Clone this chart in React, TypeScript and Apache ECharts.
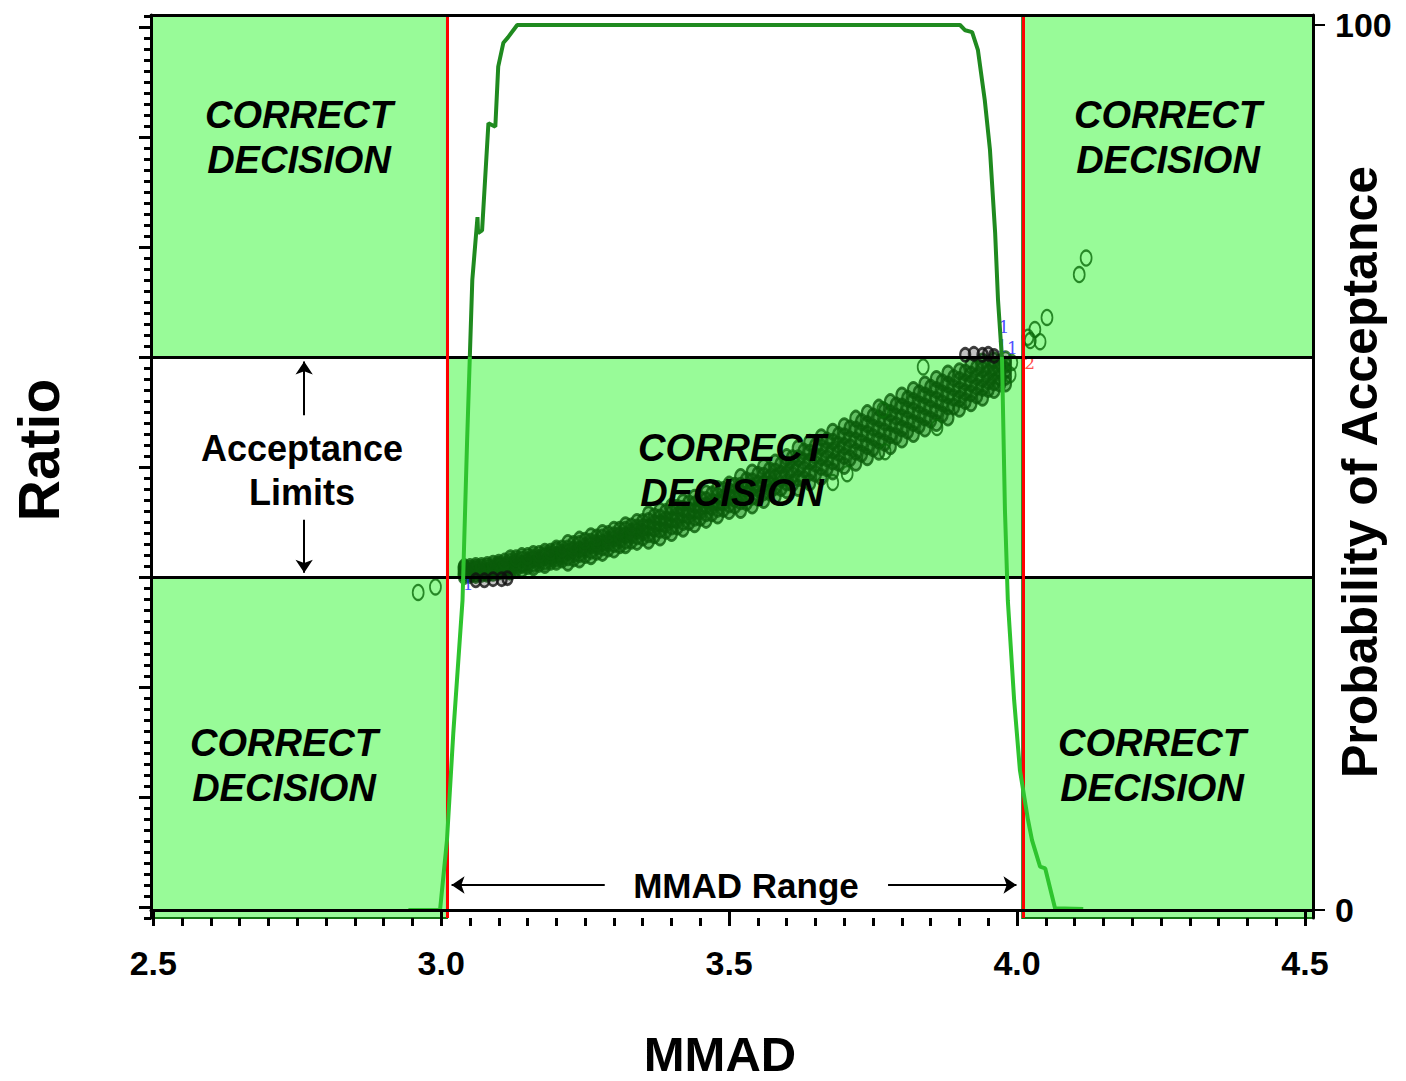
import React, { useEffect, useRef } from "react";
import * as echarts from "echarts";

const FONT = '"Liberation Sans", Arial, Helvetica, sans-serif';

// ---- axes ----
const X_MIN = 2.496;
const X_MAX = 4.514;
const R_MIN = 0.59;
const R_MAX = 1.411;
const P_MIN = -0.904;
const P_MAX = 101.13;
const xMajorTicks = [2.5, 3.0, 3.5, 4.0, 4.5];
const probTicks = [0, 100];
const ratioMajorTicks = [0.6, 0.7, 0.8, 0.9, 1.0, 1.1, 1.2, 1.3, 1.4];
const xMinorTicks = Array.from({ length: 41 }, (_, i) => +(2.5 + i * 0.05).toFixed(2));
const ratioMinorTicks = Array.from({ length: 83 }, (_, i) => +(0.59 + i * 0.01).toFixed(2));

const xTitle = "MMAD";
const leftTitle = "Ratio";
const rightTitle = "Probability of Acceptance";

// ---- limits ----
const mmadLimits = [3.01, 4.009];
const ratioLimits = [0.9, 1.1];

// ---- probability of acceptance curve (right axis) ----
const probX = [2.943, 2.998, 3.010, 3.021, 3.037, 3.045, 3.054, 3.063, 3.064, 3.071, 3.082, 3.094, 3.099, 3.108, 3.116, 3.132,
  3.901, 3.910, 3.922, 3.932, 3.944, 3.953, 3.962, 3.967, 3.974, 3.979, 3.984, 3.995, 4.005, 4.019, 4.026, 4.040, 4.049, 4.066, 4.115];
const probY = [0, 0, 7.9, 20.0, 35.0, 53.1, 71.2, 78.3, 76.5, 76.8, 88.9, 88.5, 95.3, 98.0, 98.6, 100,
  100, 99.4, 99.2, 97.2, 91.5, 85.9, 76.5, 68.9, 62.1, 45.2, 35.0, 23.7, 15.8, 10.2, 7.9, 4.9, 4.7, 0.2, 0.1];

// ---- simulated ratio vs MMAD (left axis), read column by column ----
const bandX = [3.04, 3.06, 3.08, 3.10, 3.12, 3.14, 3.16, 3.18, 3.20, 3.22, 3.24, 3.26, 3.28, 3.30, 3.32, 3.34, 3.36, 3.38,
  3.40, 3.42, 3.44, 3.46, 3.48, 3.50, 3.52, 3.54, 3.56, 3.58, 3.60, 3.62, 3.64, 3.66, 3.68, 3.70, 3.72, 3.74, 3.76, 3.78,
  3.80, 3.82, 3.84, 3.86, 3.88, 3.90, 3.92, 3.94, 3.96, 3.98];
const bandY = [
  [0.901, 0.903, 0.905, 0.908, 0.909],
  [0.902, 0.904, 0.907, 0.908, 0.910],
  [0.903, 0.905, 0.906, 0.909, 0.911],
  [0.905, 0.907, 0.910, 0.911, 0.913],
  [0.905, 0.908, 0.911, 0.914, 0.917],
  [0.907, 0.911, 0.912, 0.916, 0.919],
  [0.909, 0.912, 0.916, 0.918, 0.921],
  [0.911, 0.914, 0.918, 0.920, 0.923],
  [0.914, 0.917, 0.920, 0.924, 0.926],
  [0.913, 0.918, 0.923, 0.926, 0.931],
  [0.916, 0.921, 0.925, 0.930, 0.934],
  [0.919, 0.924, 0.929, 0.932, 0.937],
  [0.922, 0.927, 0.931, 0.936, 0.940],
  [0.925, 0.930, 0.935, 0.938, 0.943],
  [0.929, 0.933, 0.938, 0.943, 0.947],
  [0.932, 0.937, 0.942, 0.945, 0.950],
  [0.933, 0.939, 0.945, 0.951, 0.957],
  [0.936, 0.943, 0.949, 0.954, 0.960],
  [0.940, 0.946, 0.952, 0.958, 0.964],
  [0.944, 0.950, 0.957, 0.962, 0.968],
  [0.948, 0.954, 0.960, 0.966, 0.972],
  [0.952, 0.958, 0.965, 0.970, 0.976],
  [0.956, 0.962, 0.968, 0.974, 0.980],
  [0.960, 0.966, 0.973, 0.978, 0.984],
  [0.961, 0.969, 0.976, 0.983, 0.991],
  [0.965, 0.973, 0.981, 0.987, 0.995],
  [0.970, 0.977, 0.985, 0.992, 1.000],
  [0.974, 0.982, 0.990, 0.996, 1.004],
  [0.979, 0.986, 0.994, 1.002, 1.009],
  [0.981, 0.990, 0.999, 1.008, 1.017],
  [0.986, 0.995, 1.005, 1.013, 1.022],
  [0.991, 1.000, 1.009, 1.018, 1.027],
  [0.996, 1.005, 1.015, 1.023, 1.032],
  [1.001, 1.010, 1.019, 1.028, 1.037],
  [1.004, 1.014, 1.024, 1.034, 1.044],
  [1.009, 1.019, 1.030, 1.039, 1.049],
  [1.014, 1.024, 1.034, 1.044, 1.054],
  [1.019, 1.029, 1.040, 1.049, 1.059],
  [1.025, 1.035, 1.045, 1.055, 1.065],
  [1.030, 1.040, 1.051, 1.060, 1.070],
  [1.035, 1.045, 1.055, 1.065, 1.075],
  [1.040, 1.050, 1.061, 1.070, 1.080],
  [1.045, 1.055, 1.065, 1.075, 1.085],
  [1.053, 1.062, 1.070, 1.079, 1.087],
  [1.058, 1.067, 1.076, 1.084, 1.092],
  [1.063, 1.072, 1.080, 1.089, 1.096],
  [1.070, 1.077, 1.085, 1.091, 1.097],
  [1.076, 1.082, 1.088, 1.093, 1.098],
];
const bandX2 = [3.05, 3.07, 3.09, 3.11, 3.13, 3.15, 3.17, 3.19, 3.21, 3.23, 3.25, 3.27, 3.29, 3.31, 3.33, 3.35, 3.37, 3.39,
  3.41, 3.43, 3.45, 3.47, 3.49, 3.51, 3.53, 3.55, 3.57, 3.59, 3.61, 3.63, 3.65, 3.67, 3.69, 3.71, 3.73, 3.75, 3.77, 3.79,
  3.81, 3.83, 3.85, 3.87, 3.89, 3.91, 3.93, 3.95, 3.97];
const bandY2 = [
  [0.902, 0.904, 0.907, 0.909],
  [0.903, 0.905, 0.908, 0.910],
  [0.904, 0.907, 0.909, 0.912],
  [0.906, 0.909, 0.911, 0.914],
  [0.908, 0.911, 0.914, 0.917],
  [0.910, 0.913, 0.915, 0.919],
  [0.912, 0.915, 0.917, 0.921],
  [0.914, 0.917, 0.920, 0.923],
  [0.916, 0.919, 0.922, 0.926],
  [0.917, 0.921, 0.925, 0.930],
  [0.920, 0.925, 0.928, 0.933],
  [0.923, 0.928, 0.931, 0.936],
  [0.926, 0.931, 0.934, 0.939],
  [0.929, 0.934, 0.938, 0.943],
  [0.933, 0.938, 0.941, 0.946],
  [0.936, 0.941, 0.945, 0.950],
  [0.938, 0.944, 0.949, 0.955],
  [0.942, 0.948, 0.952, 0.959],
  [0.946, 0.952, 0.956, 0.963],
  [0.950, 0.956, 0.960, 0.967],
  [0.954, 0.960, 0.964, 0.971],
  [0.958, 0.964, 0.968, 0.975],
  [0.962, 0.968, 0.972, 0.979],
  [0.965, 0.971, 0.977, 0.983],
  [0.968, 0.975, 0.981, 0.988],
  [0.972, 0.980, 0.985, 0.993],
  [0.977, 0.984, 0.990, 0.997],
  [0.981, 0.989, 0.994, 1.002],
  [0.985, 0.993, 0.999, 1.008],
  [0.989, 0.998, 1.005, 1.014],
  [0.994, 1.003, 1.010, 1.019],
  [0.999, 1.008, 1.015, 1.024],
  [1.004, 1.013, 1.020, 1.029],
  [1.008, 1.018, 1.025, 1.035],
  [1.012, 1.022, 1.031, 1.041],
  [1.017, 1.027, 1.036, 1.046],
  [1.022, 1.032, 1.041, 1.051],
  [1.028, 1.038, 1.046, 1.056],
  [1.033, 1.043, 1.052, 1.062],
  [1.038, 1.048, 1.057, 1.067],
  [1.043, 1.053, 1.062, 1.072],
  [1.048, 1.058, 1.067, 1.077],
  [1.055, 1.063, 1.072, 1.081],
  [1.060, 1.068, 1.077, 1.086],
  [1.065, 1.073, 1.082, 1.090],
  [1.071, 1.078, 1.086, 1.093],
  [1.076, 1.082, 1.089, 1.095],
];
const outlierX = [2.960, 2.990, 3.680, 3.705, 3.767, 3.771, 3.837, 3.861, 3.988, 3.991, 4.019, 4.023, 4.031, 4.040, 4.052, 4.108, 4.120];
const outlierY = [0.886, 0.891, 0.986, 0.994, 1.052, 1.014, 1.091, 1.036, 1.084, 1.095, 1.118, 1.115, 1.125, 1.114, 1.136, 1.175, 1.190];
const blackX = [3.06, 3.075, 3.09, 3.105, 3.115, 3.91, 3.925, 3.94, 3.95, 3.96];
const blackY = [0.897, 0.897, 0.898, 0.898, 0.899, 1.102, 1.103, 1.102, 1.103, 1.101];
const countLabelX = [3.977, 3.974, 3.992, 3.047, 4.022];
const countLabelY = [1.127, 1.110, 1.108, 0.894, 1.095];
const countLabelText = ["1", "1", "1", "1", "2"];
const countLabelColor = ["#2020ff", "#2020ff", "#2020ff", "#2020ff", "#ff2020"];

// ---- annotation arrows (data coordinates) ----
const arrowSegments = [
  [[2.762, 1.047], [2.762, 1.096]],
  [[2.762, 0.952], [2.762, 0.904]],
  [[3.284, 0.62], [3.018, 0.62]],
  [[3.776, 0.62], [3.999, 0.62]],
];

const App: React.FC = () => {
  const ref = useRef<HTMLDivElement>(null);

  useEffect(() => {
    if (!ref.current) return;
    const chart = echarts.init(ref.current, null, { renderer: "svg" });

    const bandData: number[][] = [];
    bandX.forEach((x, i) => bandY[i].forEach((y) => bandData.push([x, y])));
    bandX2.forEach((x, i) => bandY2[i].forEach((y) => bandData.push([x, y])));
    const outlierData = outlierX.map((x, i) => [x, outlierY[i]]);
    const blackData = blackX.map((x, i) => [x, blackY[i]]);
    const countData = countLabelX.map((x, i) => ({
      value: [x, countLabelY[i]],
      name: countLabelText[i],
      label: { color: countLabelColor[i] },
    }));
    const curveData = probX.map((x, i) => [x, probY[i]]);

    const boxStyle = { color: "#98FB98", borderColor: "#137313", borderWidth: 2 };
    const boxes = [
      [{ xAxis: X_MIN, yAxis: ratioLimits[1] }, { xAxis: mmadLimits[0], yAxis: R_MAX }],
      [{ xAxis: X_MIN, yAxis: R_MIN }, { xAxis: mmadLimits[0], yAxis: ratioLimits[0] }],
      [{ xAxis: mmadLimits[0], yAxis: ratioLimits[0] }, { xAxis: mmadLimits[1], yAxis: ratioLimits[1] }],
      [{ xAxis: mmadLimits[1], yAxis: ratioLimits[1] }, { xAxis: X_MAX, yAxis: R_MAX }],
      [{ xAxis: mmadLimits[1], yAxis: R_MIN }, { xAxis: X_MAX, yAxis: ratioLimits[0] }],
    ];

    const boldText = (size: number) => ({ fontFamily: FONT, fontWeight: "bold" as const, fontSize: size, color: "#000" });

    const textEl = (text: string, x: number, y: number, font: string, lineHeight: number, rotation = 0) => ({
      type: "text",
      x,
      y,
      rotation,
      z: 100,
      silent: true,
      style: {
        text,
        font,
        fill: "#000",
        align: "center",
        verticalAlign: "middle",
        lineHeight,
      },
    });
    const decision = "CORRECT\nDECISION";
    const decisionFont = `italic bold 38px ${FONT}`;

    chart.setOption({
      animation: false,
      backgroundColor: "#fff",
      grid: {
        left: 151,
        top: 15,
        width: 1162,
        height: 903,
        show: true,
        backgroundColor: "#fff",
        borderWidth: 0,
        containLabel: false,
        outerBoundsMode: "none",
      },
      visualMap: {
        type: "piecewise",
        show: false,
        seriesIndex: 6,
        dimension: 1,
        pieces: [
          { min: -5, max: 62.5, color: "#2ec42e" },
          { min: 62.5, max: 105, color: "#1f8a1f" },
        ],
      },
      xAxis: [
        {
          type: "value",
          min: X_MIN,
          max: X_MAX,
          position: "bottom",
          z: 10,
          splitLine: { show: false },
          axisLine: { show: true, lineStyle: { color: "#000", width: 3 } },
          axisTick: { show: true, customValues: xMajorTicks, length: 14, lineStyle: { color: "#000", width: 3 } },
          axisLabel: {
            show: true,
            customValues: xMajorTicks,
            formatter: (v: number) => v.toFixed(1),
            margin: 28,
            ...boldText(34),
          },
        },
        {
          type: "value",
          min: X_MIN,
          max: X_MAX,
          position: "bottom",
          z: 10,
          splitLine: { show: false },
          axisLine: { show: false },
          axisTick: { show: true, customValues: xMinorTicks, length: 8, lineStyle: { color: "#000", width: 3 } },
          axisLabel: { show: false },
        },
        {
          type: "value",
          min: X_MIN,
          max: X_MAX,
          position: "top",
          z: 10,
          splitLine: { show: false },
          axisLine: { show: true, lineStyle: { color: "#000", width: 3 } },
          axisTick: { show: false },
          axisLabel: { show: false },
        },
      ],
      yAxis: [
        {
          type: "value",
          min: R_MIN,
          max: R_MAX,
          position: "left",
          z: 10,
          splitLine: { show: false },
          axisLine: { show: true, lineStyle: { color: "#000", width: 3 } },
          axisTick: { show: true, customValues: ratioMajorTicks, length: 12, lineStyle: { color: "#000", width: 3 } },
          axisLabel: { show: false },
        },
        {
          type: "value",
          min: R_MIN,
          max: R_MAX,
          position: "left",
          z: 10,
          splitLine: { show: false },
          axisLine: { show: false },
          axisTick: { show: true, customValues: ratioMinorTicks, length: 7, lineStyle: { color: "#000", width: 3 } },
          axisLabel: { show: false },
        },
        {
          type: "value",
          min: P_MIN,
          max: P_MAX,
          position: "right",
          z: 10,
          splitLine: { show: false },
          axisLine: { show: true, lineStyle: { color: "#000", width: 3 } },
          axisTick: { show: true, customValues: probTicks, length: 12, lineStyle: { color: "#000", width: 2 } },
          axisLabel: { show: true, customValues: probTicks, margin: 22, ...boldText(34) },
        },
      ],
      series: [
        {
          name: "decision regions",
          type: "scatter",
          xAxisIndex: 0,
          yAxisIndex: 0,
          data: [],
          z: 1,
          markArea: { silent: true, itemStyle: boxStyle, data: boxes },
        },
        {
          name: "limits",
          type: "scatter",
          xAxisIndex: 0,
          yAxisIndex: 0,
          data: [],
          z: 2,
          markLine: {
            silent: true,
            symbol: "none",
            label: { show: false },
            data: [
              { yAxis: ratioLimits[0], lineStyle: { color: "#000", width: 3, type: "solid" } },
              { yAxis: ratioLimits[1], lineStyle: { color: "#000", width: 3, type: "solid" } },
              { xAxis: mmadLimits[0], lineStyle: { color: "#ff0000", width: 3, type: "solid" } },
              { xAxis: mmadLimits[1], lineStyle: { color: "#ff0000", width: 3, type: "solid" } },
            ],
          },
        },
        {
          name: "ratio",
          type: "scatter",
          xAxisIndex: 0,
          yAxisIndex: 0,
          z: 3,
          symbol: "circle",
          symbolSize: [11, 15],
          itemStyle: { color: "rgba(10,92,10,0.45)", borderColor: "#0a5c0a", borderWidth: 2.5 },
          data: bandData,
        },
        {
          name: "ratio outliers",
          type: "scatter",
          xAxisIndex: 0,
          yAxisIndex: 0,
          z: 3,
          symbol: "circle",
          symbolSize: [11, 15],
          itemStyle: { color: "rgba(0,0,0,0)", borderColor: "#0a6a0a", borderWidth: 2 },
          data: outlierData,
        },
        {
          name: "ratio boundary",
          type: "scatter",
          xAxisIndex: 0,
          yAxisIndex: 0,
          z: 3,
          symbol: "circle",
          symbolSize: [10, 13],
          itemStyle: { color: "rgba(0,0,0,0.3)", borderColor: "#111", borderWidth: 2.5 },
          data: blackData,
        },
        {
          name: "counts",
          type: "scatter",
          xAxisIndex: 0,
          yAxisIndex: 0,
          z: 4,
          symbolSize: 0,
          label: { show: true, position: "inside", formatter: "{b}", fontSize: 17, fontFamily: "DejaVu Serif, serif" },
          data: countData,
        },
        {
          name: "Probability of Acceptance",
          type: "line",
          xAxisIndex: 0,
          yAxisIndex: 2,
          z: 5,
          showSymbol: false,
          symbol: "none",
          lineStyle: { width: 4 },
          data: curveData,
        },
        {
          name: "arrows",
          type: "scatter",
          xAxisIndex: 0,
          yAxisIndex: 0,
          data: [],
          z: 6,
          markLine: {
            silent: true,
            label: { show: false },
            symbolSize: 13,
            lineStyle: { color: "#000", width: 2, type: "solid" },
            data: arrowSegments.map((seg) => [
              { coord: seg[0], symbol: "none" },
              { coord: seg[1], symbol: "arrow" },
            ]),
          },
        },
      ],
      graphic: [
        textEl(decision, 299, 137, decisionFont, 45),
        textEl(decision, 1168, 137, decisionFont, 45),
        textEl(decision, 732, 470, decisionFont, 45),
        textEl(decision, 284, 765, decisionFont, 45),
        textEl(decision, 1152, 765, decisionFont, 45),
        textEl("Acceptance\nLimits", 302, 470, `bold 36px ${FONT}`, 44),
        textEl("MMAD Range", 746, 885, `bold 35px ${FONT}`, 40),
        textEl(xTitle, 720, 1054, `bold 49px ${FONT}`, 50),
        textEl(leftTitle, 39, 450, `bold 57px ${FONT}`, 58, Math.PI / 2),
        textEl(rightTitle, 1360, 472, `bold 50px ${FONT}`, 52, Math.PI / 2),
      ],
    });

    return () => chart.dispose();
  }, []);

  return (
    <div
      ref={ref}
      style={{ position: "fixed", left: 0, top: 0, width: 1406, height: 1081, background: "#fff" }}
    />
  );
};

export default App;
